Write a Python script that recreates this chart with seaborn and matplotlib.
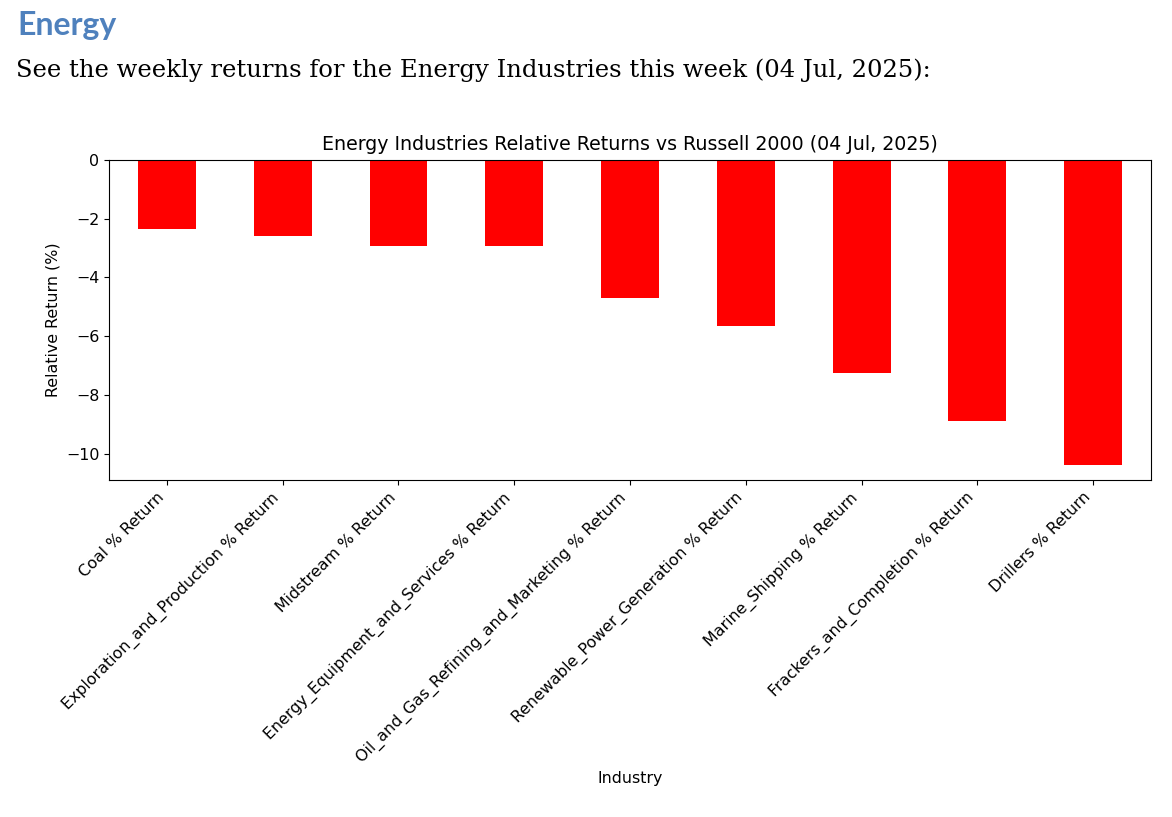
import matplotlib
matplotlib.use("Agg")
import matplotlib.pyplot as plt
import seaborn as sns
import pandas as pd

# data
industries = [
    "Coal % Return",
    "Exploration_and_Production % Return",
    "Midstream % Return",
    "Energy_Equipment_and_Services % Return",
    "Oil_and_Gas_Refining_and_Marketing % Return",
    "Renewable_Power_Generation % Return",
    "Marine_Shipping % Return",
    "Frackers_and_Completion % Return",
    "Drillers % Return",
]
rel_returns = [-2.34, -2.58, -2.93, -2.93, -4.69, -5.67, -7.24, -8.89, -10.38]

heading = "Energy"
intro = "See the weekly returns for the Energy Industries this week (04 Jul, 2025):"
chart_title = "Energy Industries Relative Returns vs Russell 2000 (04 Jul, 2025)"

df = pd.DataFrame({"Industry": industries, "Return": rel_returns})

W, H = 1172, 817
fig = plt.figure(figsize=(W / 100, H / 100), dpi=100)
fig.patch.set_facecolor("white")

# document-style header text
fig.text(17 / W, 1 - 26 / H, heading, family="Lato", weight="bold",
         fontsize=23, color="#4F81BD", va="center", ha="left")
fig.text(16 / W, 1 - 70 / H, intro, family="DejaVu Serif",
         fontsize=17.5, color="black", va="center", ha="left")

ax = fig.add_axes([109 / W, 1 - 480 / H, (1151 - 109) / W, 320 / H])
sns.barplot(data=df, x="Industry", y="Return", color="red", saturation=1,
            width=0.5, linewidth=0, ax=ax)

ax.set_xlim(-0.5, len(industries) - 0.5)
ax.set_ylim(min(rel_returns) * 1.05, 0)
ax.set_title(chart_title, fontsize=13.7, pad=7)
ax.set_ylabel("Relative Return (%)", fontsize=11.4)
ax.set_xlabel("Industry", fontsize=11.4)
ax.tick_params(labelsize=11.4)
plt.setp(ax.get_xticklabels(), rotation=45, ha="right")

fig.savefig("out.png", dpi=100, facecolor="white")
